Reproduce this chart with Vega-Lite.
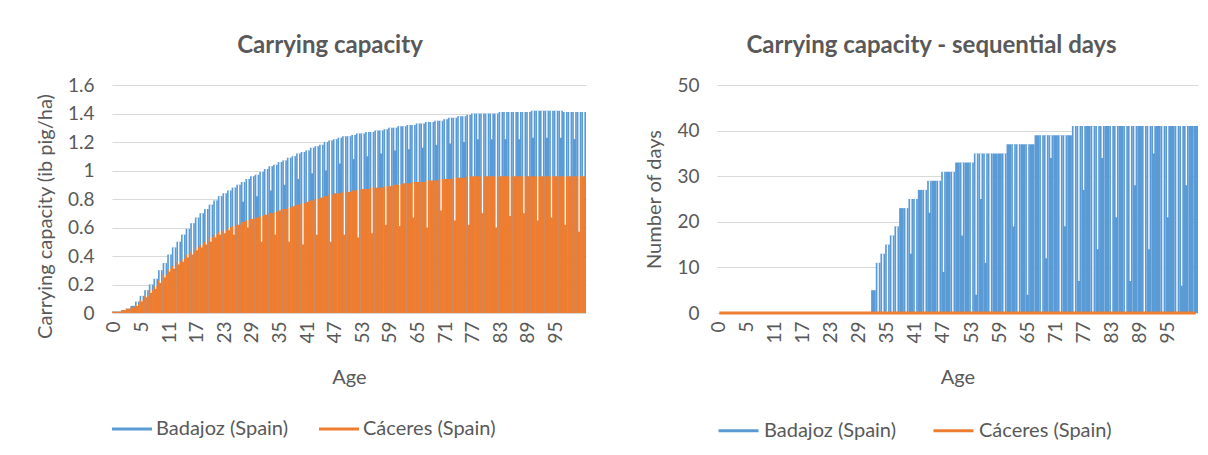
{
  "$schema": "https://vega.github.io/schema/vega-lite/v6.json",
  "background": "white",
  "padding": {"left": 35, "top": 34, "right": 5, "bottom": 5},
  "config": {
    "font": "Lato",
    "view": {"stroke": null},
    "axis": {"labelFont": "Lato", "labelColor": "#595959", "labelFontSize": 19, "titleFont": "Lato", "titleColor": "#595959", "titleFontSize": 20, "titleFontWeight": "normal", "gridColor": "#d9d9d9", "gridWidth": 1.2, "domain": false, "ticks": false, "labelOverlap": false},
    "title": {"font": "Lato", "fontSize": 24, "fontWeight": "bold", "color": "#595959"},
    "legend": {"labelFont": "Lato", "labelFontSize": 20, "labelColor": "#595959", "symbolType": "stroke", "symbolStrokeWidth": 3, "symbolSize": 1600, "labelOffset": 4, "columnPadding": 30, "orient": "bottom", "direction": "horizontal", "title": null, "offset": 21},
    "concat": {"spacing": 58}
  },
  "datasets": {
    "t": [
      {"i":0,"b":0.01,"o":0.01,"db":0,"dc":0},
      {"i":1,"b":0.01,"o":0.01,"db":0,"dc":0},
      {"i":2,"b":0.02,"o":0.02,"db":0,"dc":0},
      {"i":3,"b":0.03,"o":0.03,"db":0,"dc":0},
      {"i":4,"b":0.05,"o":0.04,"db":0,"dc":0},
      {"i":5,"b":0.08,"o":0.06,"g":0.05,"db":0,"dc":0},
      {"i":6,"b":0.12,"o":0.09,"g":0.08,"db":0,"dc":0},
      {"i":7,"b":0.16,"o":0.12,"g":0.11,"db":0,"dc":0},
      {"i":8,"b":0.2,"o":0.16,"g":0.14,"db":0,"dc":0},
      {"i":9,"b":0.24,"o":0.19,"g":0.17,"db":0,"dc":0},
      {"i":10,"b":0.3,"o":0.23,"g":0.21,"db":0,"dc":0},
      {"i":11,"b":0.35,"o":0.27,"g":0.25,"db":0,"dc":0},
      {"i":12,"b":0.41,"o":0.31,"g":0.29,"db":0,"dc":0},
      {"i":13,"b":0.46,"o":0.33,"g":0.31,"db":0,"dc":0},
      {"i":14,"b":0.5,"o":0.36,"g":0.34,"db":0,"dc":0},
      {"i":15,"b":0.55,"o":0.38,"g":0.36,"db":0,"dc":0},
      {"i":16,"b":0.59,"o":0.41,"g":0.39,"db":0,"dc":0},
      {"i":17,"b":0.63,"o":0.43,"g":0.41,"db":0,"dc":0},
      {"i":18,"b":0.67,"o":0.46,"g":0.44,"db":0,"dc":0},
      {"i":19,"b":0.7,"o":0.48,"g":0.46,"db":0,"dc":0},
      {"i":20,"b":0.73,"o":0.5,"g":0.48,"db":0,"dc":0},
      {"i":21,"b":0.76,"o":0.53,"g":0.5,"db":0,"dc":0},
      {"i":22,"b":0.79,"o":0.55,"g":0.53,"db":0,"dc":0},
      {"i":23,"b":0.82,"o":0.57,"g":0.55,"db":0,"dc":0},
      {"i":24,"b":0.84,"o":0.58,"g":0.56,"db":0,"dc":0},
      {"i":25,"b":0.86,"o":0.6,"g":0.58,"db":0,"dc":0},
      {"i":26,"b":0.88,"o":0.61,"g":0.55,"db":0,"dc":0},
      {"i":27,"b":0.9,"o":0.62,"g":0.62,"db":0,"dc":0},
      {"i":28,"b":0.92,"o":0.64,"g":0.78,"db":0,"dc":0},
      {"i":29,"b":0.94,"o":0.65,"g":0.6,"db":0,"dc":0},
      {"i":30,"b":0.96,"o":0.66,"g":0.66,"db":0,"dc":0},
      {"i":31,"b":0.97,"o":0.67,"g":0.82,"db":0,"dc":0},
      {"i":32,"b":0.99,"o":0.68,"g":0.5,"db":0,"dc":0},
      {"i":33,"b":1.01,"o":0.69,"g":0.69,"db":5,"dc":0},
      {"i":34,"b":1.03,"o":0.7,"g":0.86,"db":11,"dc":0,"dg":0},
      {"i":35,"b":1.04,"o":0.71,"g":0.55,"db":13,"dc":0,"dg":0},
      {"i":36,"b":1.06,"o":0.72,"g":0.72,"db":15,"dc":0,"dg":0},
      {"i":37,"b":1.07,"o":0.73,"g":0.9,"db":17,"dc":0,"dg":0},
      {"i":38,"b":1.09,"o":0.74,"g":0.5,"db":19,"dc":0,"dg":0},
      {"i":39,"b":1.1,"o":0.75,"g":0.75,"db":23,"dc":0},
      {"i":40,"b":1.12,"o":0.76,"g":0.94,"db":23,"dc":0,"dg":0},
      {"i":41,"b":1.13,"o":0.77,"g":0.48,"db":25,"dc":0,"dg":13},
      {"i":42,"b":1.14,"o":0.78,"g":0.78,"db":25,"dc":0,"dg":0},
      {"i":43,"b":1.16,"o":0.79,"g":0.98,"db":27,"dc":0},
      {"i":44,"b":1.17,"o":0.8,"g":0.55,"db":27,"dc":0,"dg":0},
      {"i":45,"b":1.18,"o":0.81,"g":0.81,"db":29,"dc":0,"dg":22},
      {"i":46,"b":1.2,"o":0.82,"g":1.0,"db":29,"dc":0},
      {"i":47,"b":1.21,"o":0.83,"g":0.5,"db":29,"dc":0,"dg":0},
      {"i":48,"b":1.22,"o":0.84,"g":0.84,"db":31,"dc":0,"dg":9},
      {"i":49,"b":1.23,"o":0.84,"g":1.05,"db":31,"dc":0},
      {"i":50,"b":1.24,"o":0.85,"g":0.55,"db":31,"dc":0,"dg":0},
      {"i":51,"b":1.24,"o":0.85,"g":0.85,"db":33,"dc":0},
      {"i":52,"b":1.25,"o":0.86,"g":1.08,"db":33,"dc":0,"dg":17},
      {"i":53,"b":1.26,"o":0.86,"g":0.53,"db":33,"dc":0},
      {"i":54,"b":1.26,"o":0.87,"g":0.87,"db":33,"dc":0,"dg":0},
      {"i":55,"b":1.27,"o":0.87,"g":1.1,"db":35,"dc":0,"dg":4},
      {"i":56,"b":1.27,"o":0.88,"g":0.56,"db":35,"dc":0,"dg":25},
      {"i":57,"b":1.28,"o":0.88,"g":0.88,"db":35,"dc":0,"dg":11},
      {"i":58,"b":1.28,"o":0.88,"g":1.12,"db":35,"dc":0,"dg":0},
      {"i":59,"b":1.29,"o":0.89,"g":0.62,"db":35,"dc":0},
      {"i":60,"b":1.3,"o":0.89,"g":0.89,"db":35,"dc":0},
      {"i":61,"b":1.3,"o":0.9,"g":1.14,"db":35,"dc":0,"dg":0},
      {"i":62,"b":1.31,"o":0.9,"g":0.61,"db":37,"dc":0},
      {"i":63,"b":1.31,"o":0.91,"g":0.91,"db":37,"dc":0,"dg":19},
      {"i":64,"b":1.32,"o":0.91,"g":1.15,"db":37,"dc":0,"dg":0},
      {"i":65,"b":1.32,"o":0.92,"g":0.67,"db":37,"dc":0},
      {"i":66,"b":1.33,"o":0.92,"g":0.92,"db":37,"dc":0,"dg":4},
      {"i":67,"b":1.33,"o":0.92,"g":1.16,"db":37,"dc":0},
      {"i":68,"b":1.34,"o":0.93,"g":0.6,"db":39,"dc":0},
      {"i":69,"b":1.34,"o":0.93,"g":0.93,"db":39,"dc":0,"dg":0},
      {"i":70,"b":1.35,"o":0.93,"g":1.18,"db":39,"dc":0,"dg":12},
      {"i":71,"b":1.35,"o":0.94,"g":0.72,"db":39,"dc":0,"dg":34},
      {"i":72,"b":1.36,"o":0.94,"g":0.94,"db":39,"dc":0},
      {"i":73,"b":1.37,"o":0.94,"g":1.19,"db":39,"dc":0,"dg":0},
      {"i":74,"b":1.37,"o":0.95,"g":0.65,"db":39,"dc":0,"dg":19},
      {"i":75,"b":1.38,"o":0.95,"g":0.95,"db":39,"dc":0},
      {"i":76,"b":1.38,"o":0.95,"g":1.2,"db":41,"dc":0,"dg":0},
      {"i":77,"b":1.39,"o":0.96,"g":0.62,"db":41,"dc":0,"dg":7},
      {"i":78,"b":1.4,"o":0.96,"g":0.96,"db":41,"dc":0,"dg":27},
      {"i":79,"b":1.4,"o":0.96,"g":1.22,"db":41,"dc":0},
      {"i":80,"b":1.4,"o":0.96,"g":0.7,"db":41,"dc":0,"dg":0},
      {"i":81,"b":1.4,"o":0.96,"g":0.96,"db":41,"dc":0,"dg":14},
      {"i":82,"b":1.4,"o":0.96,"g":1.22,"db":41,"dc":0,"dg":34},
      {"i":83,"b":1.4,"o":0.96,"g":0.6,"db":41,"dc":0},
      {"i":84,"b":1.41,"o":0.96,"g":0.96,"db":41,"dc":0,"dg":0},
      {"i":85,"b":1.41,"o":0.96,"g":1.22,"db":41,"dc":0,"dg":21},
      {"i":86,"b":1.41,"o":0.96,"g":0.68,"db":41,"dc":0},
      {"i":87,"b":1.41,"o":0.96,"g":0.96,"db":41,"dc":0,"dg":0},
      {"i":88,"b":1.41,"o":0.96,"g":1.22,"db":41,"dc":0,"dg":7},
      {"i":89,"b":1.41,"o":0.96,"g":0.7,"db":41,"dc":0,"dg":28},
      {"i":90,"b":1.41,"o":0.96,"g":0.96,"db":41,"dc":0},
      {"i":91,"b":1.42,"o":0.96,"g":1.23,"db":41,"dc":0,"dg":0},
      {"i":92,"b":1.42,"o":0.96,"g":0.65,"db":41,"dc":0,"dg":14},
      {"i":93,"b":1.42,"o":0.96,"g":0.96,"db":41,"dc":0,"dg":35},
      {"i":94,"b":1.42,"o":0.96,"g":1.23,"db":41,"dc":0},
      {"i":95,"b":1.42,"o":0.96,"g":0.67,"db":41,"dc":0,"dg":0},
      {"i":96,"b":1.42,"o":0.96,"g":0.96,"db":41,"dc":0,"dg":21},
      {"i":97,"b":1.42,"o":0.96,"g":1.23,"db":41,"dc":0},
      {"i":98,"b":1.41,"o":0.96,"g":0.62,"db":41,"dc":0,"dg":0},
      {"i":99,"b":1.41,"o":0.96,"g":0.96,"db":41,"dc":0,"dg":6},
      {"i":100,"b":1.41,"o":0.96,"g":1.22,"db":41,"dc":0,"dg":28},
      {"i":101,"b":1.41,"o":0.96,"g":0.57,"db":41,"dc":0},
      {"i":102,"b":1.41,"o":0.96,"g":0.96,"db":41,"dc":0}
    ]
  },
  "resolve": {"scale": {"color": "independent", "x": "independent", "y": "independent"}, "legend": {"color": "independent"}},
  "hconcat": [
    {
      "width": 474,
      "height": 228,
      "data": {"name": "t"},
      "title": {"text": "Carrying capacity", "dx": -19, "offset": 18},
      "encoding": {
        "x": {"field": "i", "type": "ordinal", "scale": {"paddingInner": 0, "paddingOuter": 0},
          "axis": {"title": "Age", "values": [0,6,12,18,24,30,36,42,48,54,60,66,72,78,84,90,96], "labelExpr": "datum.value == 0 ? '0' : '' + (datum.value - 1)", "labelAngle": -90, "labelPadding": 8, "titlePadding": 24, "grid": false}}
      },
      "layer": [
        {
          "mark": {"type": "bar"},
          "encoding": {
            "y": {"field": "b", "type": "quantitative", "scale": {"domain": [0, 1.6]},
              "axis": {"title": "Carrying capacity (ib pig/ha)", "values": [0,0.2,0.4,0.6,0.8,1,1.2,1.4,1.6], "format": ".1~f", "labelPadding": 18, "titlePadding": 12, "titleY": 131}},
            "color": {"datum": "Badajoz (Spain)", "scale": {"domain": ["Badajoz (Spain)", "Cáceres  (Spain)"], "range": ["#5B9BD5", "#ED7D31"]},
              "legend": {"symbolType": "M-1,-0.08H1V0.08H-1Z", "symbolStrokeWidth": 0}}
          }
        },
        {
          "mark": {"type": "bar"},
          "encoding": {
            "y": {"field": "o", "type": "quantitative", "scale": {"domain": [0, 1.6]},
              "axis": {"title": "Carrying capacity (ib pig/ha)", "values": [0,0.2,0.4,0.6,0.8,1,1.2,1.4,1.6], "format": ".1~f", "labelPadding": 18, "titlePadding": 12, "titleY": 131}},
            "color": {"datum": "Cáceres  (Spain)"}
          }
        },
        {
          "transform": [{"filter": "isValid(datum.g)"}],
          "mark": {"type": "rule", "color": "white", "strokeWidth": 1.3},
          "encoding": {
            "y": {"field": "g", "type": "quantitative", "scale": {"domain": [0, 1.6]},
              "axis": {"title": "Carrying capacity (ib pig/ha)", "values": [0,0.2,0.4,0.6,0.8,1,1.2,1.4,1.6], "format": ".1~f", "labelPadding": 18, "titlePadding": 12, "titleY": 131}},
            "y2": {"field": "b"}
          }
        }
      ]
    },
    {
      "width": 481,
      "height": 228,
      "data": {"name": "t"},
      "title": {"text": "Carrying capacity - sequential days", "dx": -26, "offset": 18},
      "encoding": {
        "x": {"field": "i", "type": "ordinal", "scale": {"paddingInner": 0, "paddingOuter": 0},
          "axis": {"title": "Age", "values": [0,6,12,18,24,30,36,42,48,54,60,66,72,78,84,90,96], "labelExpr": "datum.value == 0 ? '0' : '' + (datum.value - 1)", "labelAngle": -90, "labelPadding": 8, "titlePadding": 24, "grid": false}}
      },
      "layer": [
        {
          "mark": {"type": "bar"},
          "encoding": {
            "y": {"field": "db", "type": "quantitative", "scale": {"domain": [0, 50]},
              "axis": {"title": "Number of days", "values": [0,10,20,30,40,50], "labelPadding": 18, "titlePadding": 12}},
            "color": {"datum": "Badajoz (Spain)", "scale": {"domain": ["Badajoz (Spain)", "Cáceres  (Spain)"], "range": ["#5B9BD5", "#ED7D31"]}}
          }
        },
        {
          "transform": [{"filter": "isValid(datum.dg)"}],
          "mark": {"type": "rule", "color": "white", "strokeWidth": 1.3},
          "encoding": {
            "y": {"field": "dg", "type": "quantitative", "scale": {"domain": [0, 50]},
              "axis": {"title": "Number of days", "values": [0,10,20,30,40,50], "labelPadding": 18, "titlePadding": 12}},
            "y2": {"field": "db"}
          }
        },
        {
          "mark": {"type": "line", "strokeWidth": 3},
          "encoding": {
            "y": {"field": "dc", "type": "quantitative", "scale": {"domain": [0, 50]},
              "axis": {"title": "Number of days", "values": [0,10,20,30,40,50], "labelPadding": 18, "titlePadding": 12}},
            "color": {"datum": "Cáceres  (Spain)"}
          }
        }
      ]
    }
  ]
}
